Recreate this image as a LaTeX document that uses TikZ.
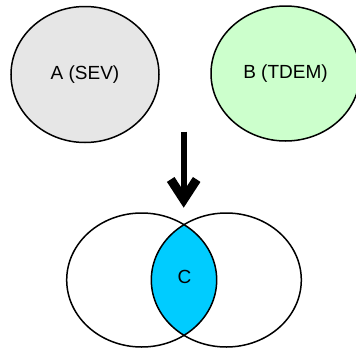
\documentclass[tikz,border=0pt]{standalone}
\usepackage{fontspec}
\setmainfont{Liberation Sans}
\usepackage{tikz}
\usetikzlibrary{arrows.meta,shapes.geometric}

\definecolor{setgrey}{HTML}{E6E6E6}
\definecolor{setgreen}{HTML}{CCFFCC}
\definecolor{setcyan}{HTML}{00CCFF}

\begin{document}
\begin{tikzpicture}[
x=1pt, y=-1pt,
blob/.style={draw, ellipse, line width=1.5pt, inner sep=0pt, font=\fontsize{19}{22}\selectfont},
ring/.style={blob, minimum width=150pt, minimum height=134pt},
arrow/.style={-{Straight Barb[length=20pt,width=26pt,line width=9pt]}, line width=6pt}
]
\useasboundingbox (0,0) rectangle (356,351);
% the two methods
\node[blob, fill=setgrey, minimum width=148pt, minimum height=136pt] (a) at (85,74.5) {A (SEV)};
\node[blob, fill=setgreen, minimum width=149pt, minimum height=135pt] (b) at (285.5,73.5) {B (TDEM)};
% overlap below
\begin{scope}
\clip (141.7,280) ellipse [x radius=75, y radius=67];
\fill[setcyan] (226.3,280) ellipse [x radius=75, y radius=67];
\end{scope}
\node[ring] (l) at (141.7,280) {};
\node[ring] (r) at (226.3,280) {};
\node[font=\fontsize{19}{22}\selectfont] (c) at (184.5,277) {C};
\coordinate (top) at (183.7,131.7);
\coordinate (tip) at (183.7,207.7);
\draw[arrow] (top)--(tip);
\end{tikzpicture}
\end{document}
